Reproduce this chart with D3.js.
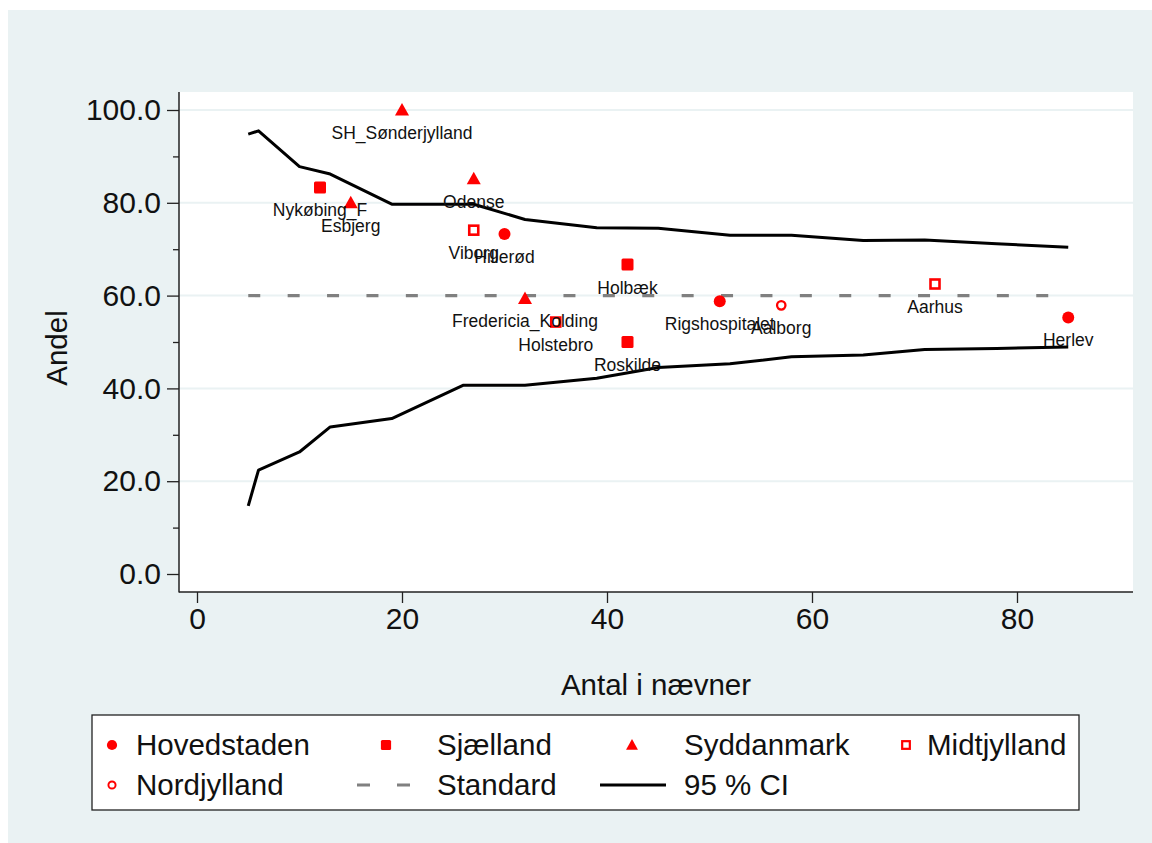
<!DOCTYPE html>
<html>
<head>
<meta charset="utf-8">
<script src="https://cdn.jsdelivr.net/npm/d3@7"></script>
<style>
  html, body { margin: 0; padding: 0; background: #ffffff; }
  svg { display: block; font-family: "Liberation Sans", Arial, Helvetica, sans-serif; }
</style>
</head>
<body>
<svg id="chart" width="1152" height="843"></svg>
<script>
// Hospitals: denominator (n) and share (%) per region
const hospitals = ["SH_Sønderjylland", "Odense", "Nykøbing_F", "Esbjerg", "Viborg", "Hillerød",
  "Holbæk", "Fredericia_Kolding", "Holstebro", "Roskilde", "Rigshospitalet", "Aalborg", "Aarhus", "Herlev"];
const regions = ["Syddanmark", "Syddanmark", "Sjælland", "Syddanmark", "Midtjylland", "Hovedstaden",
  "Sjælland", "Syddanmark", "Midtjylland", "Sjælland", "Hovedstaden", "Nordjylland", "Midtjylland", "Hovedstaden"];
const denominators = [20, 27, 12, 15, 27, 30, 42, 32, 35, 42, 51, 57, 72, 85];
const shares = [100.0, 85.2, 83.3, 80.0, 74.1, 73.3, 66.7, 59.4, 54.3, 50.0, 58.8, 57.9, 62.5, 55.3];

// Standard level and its funnel limits
const standardLevel = 60;
const standardRange = [5, 85];
const ciUpperN = [5, 6, 10, 13, 19, 27, 32, 39, 45, 52, 58, 65, 71, 78, 85];
const ciUpper = [94.8, 95.5, 87.8, 86.2, 79.7, 79.7, 76.4, 74.6, 74.5, 73.0, 73.0, 71.9, 72.0, 71.2, 70.4];
const ciLowerN = [5, 6, 10, 13, 19, 26, 32, 39, 45, 52, 58, 65, 71, 78, 85];
const ciLower = [14.7, 22.4, 26.3, 31.7, 33.5, 40.7, 40.7, 42.2, 44.5, 45.3, 46.8, 47.2, 48.4, 48.6, 48.9];

// Axis ticks
const xTicks = [0, 20, 40, 60, 80];
const yTicks = [0, 20, 40, 60, 80, 100];
const yMinorTicks = [10, 30, 50, 70, 90];

// Legend entries
const legendRegions = ["Hovedstaden", "Sjælland", "Syddanmark", "Midtjylland", "Nordjylland"];
const legendLabels = { standard: "Standard", ci: "95 % CI" };

const RED = "#ff0000";
const BG = "#eaf2f3";
const TICK_FONT = 30;
const TITLE_FONT = 29.5;
const LEGEND_FONT = 29.5;
const LABEL_FONT = 17.5;

const svg = d3.select("#chart");

// Graph region
svg.append("rect").attr("x", 8).attr("y", 10).attr("width", 1144).attr("height", 833).attr("fill", BG);

const plot = { left: 179, right: 1133, top: 92, bottom: 592 };
svg.append("rect").attr("x", plot.left).attr("y", plot.top)
  .attr("width", plot.right - plot.left).attr("height", plot.bottom - plot.top).attr("fill", "#ffffff");

const x = d3.scaleLinear().domain([0, 80]).range([197, 1017]);
const y = d3.scaleLinear().domain([0, 100]).range([574, 110]);

// Grid lines
svg.append("g").selectAll("line").data(yTicks.filter(d => d > 0)).join("line")
  .attr("x1", plot.left).attr("x2", plot.right)
  .attr("y1", d => y(d)).attr("y2", d => y(d))
  .attr("stroke", BG).attr("stroke-width", 2);

// Y axis
const yAxis = svg.append("g").attr("transform", `translate(${plot.left},0)`)
  .call(d3.axisLeft(y).tickValues(yTicks).tickFormat(d3.format(".1f")).tickSize(12).tickPadding(6));
yAxis.select(".domain").remove();
yAxis.selectAll("line").attr("stroke", "#222").attr("stroke-width", 1.3);
yAxis.selectAll("text").attr("font-size", TICK_FONT).attr("fill", "#111").attr("font-family", null);
const yMinor = svg.append("g").attr("transform", `translate(${plot.left},0)`)
  .call(d3.axisLeft(y).tickValues(yMinorTicks).tickFormat("").tickSize(6));
yMinor.select(".domain").remove();
yMinor.selectAll("line").attr("stroke", "#222").attr("stroke-width", 1.3);

// X axis
const xAxis = svg.append("g").attr("transform", `translate(0,${plot.bottom})`)
  .call(d3.axisBottom(x).tickValues(xTicks).tickFormat(d3.format("d")).tickSize(11).tickPadding(5));
xAxis.select(".domain").remove();
xAxis.selectAll("line").attr("stroke", "#222").attr("stroke-width", 1.3);
xAxis.selectAll("text").attr("font-size", TICK_FONT).attr("fill", "#111").attr("font-family", null);

// Axis lines
svg.append("line").attr("x1", plot.left).attr("x2", plot.left).attr("y1", plot.top).attr("y2", plot.bottom + 0.5)
  .attr("stroke", "#222").attr("stroke-width", 1.5);
svg.append("line").attr("x1", plot.left).attr("x2", plot.right).attr("y1", plot.bottom).attr("y2", plot.bottom)
  .attr("stroke", "#222").attr("stroke-width", 1.5);

// Axis titles
svg.append("text").attr("x", 656).attr("y", 695).attr("text-anchor", "middle")
  .attr("font-size", TITLE_FONT).attr("fill", "#111").text("Antal i nævner");
svg.append("text").attr("transform", "translate(67,348) rotate(-90)").attr("text-anchor", "middle")
  .attr("font-size", TITLE_FONT).attr("fill", "#111").text("Andel");

// Standard line
svg.append("line")
  .attr("x1", x(standardRange[0])).attr("x2", x(standardRange[1]))
  .attr("y1", y(standardLevel)).attr("y2", y(standardLevel))
  .attr("stroke", "#808080").attr("stroke-width", 3.2).attr("stroke-dasharray", "12,27.4");

// Confidence limits
const line = d3.line().x(d => x(d[0])).y(d => y(d[1]));
svg.append("path").datum(d3.zip(ciUpperN, ciUpper)).attr("d", line)
  .attr("fill", "none").attr("stroke", "#000").attr("stroke-width", 3).attr("stroke-linejoin", "round");
svg.append("path").datum(d3.zip(ciLowerN, ciLower)).attr("d", line)
  .attr("fill", "none").attr("stroke", "#000").attr("stroke-width", 3).attr("stroke-linejoin", "round");

// Marker symbols per region
function drawMarker(g, region, cx, cy, s = 1) {
  switch (region) {
    case "Hovedstaden":
      g.append("circle").attr("cx", cx).attr("cy", cy).attr("r", 6 * s).attr("fill", RED);
      break;
    case "Sjælland":
      g.append("rect").attr("x", cx - 6 * s).attr("y", cy - 6 * s).attr("width", 12 * s).attr("height", 12 * s)
        .attr("rx", 1.5).attr("fill", RED);
      break;
    case "Syddanmark":
      g.append("path").attr("d", `M${cx},${cy - 7 * s}L${cx + 7 * s},${cy + 5.5 * s}L${cx - 7 * s},${cy + 5.5 * s}Z`).attr("fill", RED);
      break;
    case "Midtjylland":
      g.append("rect").attr("x", cx - 4.5 * s).attr("y", cy - 4.5 * s).attr("width", 9 * s).attr("height", 9 * s)
        .attr("fill", "#fff").attr("stroke", RED).attr("stroke-width", 2.6 * s);
      break;
    case "Nordjylland":
      g.append("circle").attr("cx", cx).attr("cy", cy).attr("r", 4.2 * s)
        .attr("fill", "#fff").attr("stroke", RED).attr("stroke-width", 2.3 * s);
      break;
  }
}

const pts = svg.append("g");
hospitals.forEach((name, i) => {
  drawMarker(pts, regions[i], x(denominators[i]), y(shares[i]));
});
const labels = svg.append("g");
hospitals.forEach((name, i) => {
  labels.append("text")
    .attr("x", x(denominators[i])).attr("y", y(shares[i]) + 29)
    .attr("text-anchor", "middle").attr("font-size", LABEL_FONT).attr("fill", "#111")
    .text(name);
});

// Legend
const lg = svg.append("g");
lg.append("rect").attr("x", 92).attr("y", 715).attr("width", 987).attr("height", 95)
  .attr("fill", "#fff").attr("stroke", "#222").attr("stroke-width", 1.3);
const colMarkerX = [112, 386, 632, 906];
const colTextX = [136, 437, 684, 927];
const rowY = [745, 785];
legendRegions.forEach((r, i) => {
  const col = i % 4, row = Math.floor(i / 4);
  drawMarker(lg, r, colMarkerX[col], rowY[row], 0.85);
  lg.append("text").attr("x", colTextX[col]).attr("y", rowY[row] + 10)
    .attr("font-size", LEGEND_FONT).attr("fill", "#111").text(r);
});
lg.append("line").attr("x1", 357).attr("x2", 412).attr("y1", rowY[1]).attr("y2", rowY[1])
  .attr("stroke", "#808080").attr("stroke-width", 3.2).attr("stroke-dasharray", "13,27");
lg.append("text").attr("x", colTextX[1]).attr("y", rowY[1] + 10)
  .attr("font-size", LEGEND_FONT).attr("fill", "#111").text(legendLabels.standard);
lg.append("line").attr("x1", 600).attr("x2", 666).attr("y1", rowY[1]).attr("y2", rowY[1])
  .attr("stroke", "#000").attr("stroke-width", 3);
lg.append("text").attr("x", colTextX[2]).attr("y", rowY[1] + 10)
  .attr("font-size", LEGEND_FONT).attr("fill", "#111").text(legendLabels.ci);
</script>
</body>
</html>
